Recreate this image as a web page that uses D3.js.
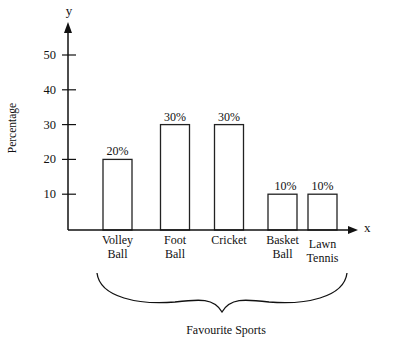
<!DOCTYPE html>
<html>
<head>
<meta charset="utf-8">
<script src="https://cdn.jsdelivr.net/npm/d3@7"></script>
<style>
  html, body { margin: 0; padding: 0; background: #fff; }
  svg { display: block; }
  text { font-family: "Liberation Serif", "Times New Roman", serif; fill: #111; }
</style>
</head>
<body>
<svg id="chart" width="400" height="339"></svg>
<script>
// Favourite sports survey
const categories = ["Volley Ball", "Foot Ball", "Cricket", "Basket Ball", "Lawn Tennis"];
const labelLines = [["Volley", "Ball"], ["Foot", "Ball"], ["Cricket"], ["Basket", "Ball"], ["Lawn", "Tennis"]];
const percentages = [20, 30, 30, 10, 10];
const valueLabels = ["20%", "30%", "30%", "10%", "10%"];
const yTicks = [10, 20, 30, 40, 50];

const svg = d3.select("#chart");
const originX = 68, originY = 230;

const y = d3.scaleLinear().domain([0, 50]).range([229, 55]);
// category centres along the x axis
const x = d3.scaleOrdinal().domain(categories).range([117.5, 175, 229, 282.5, 322.5]);
const barW = 29;

// bars
svg.selectAll("rect.bar").data(categories).enter().append("rect")
  .attr("class", "bar")
  .attr("x", d => x(d) - barW / 2)
  .attr("y", (d, i) => y(percentages[i]))
  .attr("width", barW)
  .attr("height", (d, i) => originY - y(percentages[i]))
  .attr("fill", "#fff")
  .attr("stroke", "#222")
  .attr("stroke-width", 1.3);

// value labels
svg.selectAll("text.val").data(categories).enter().append("text")
  .attr("class", "val")
  .attr("x", (d, i) => x(d) + (i === 3 ? 3 : 0))
  .attr("y", (d, i) => y(percentages[i]) - 4)
  .attr("text-anchor", "middle")
  .attr("font-size", 12)
  .text((d, i) => valueLabels[i]);

// axes
svg.append("line").attr("x1", originX).attr("y1", originY).attr("x2", originX).attr("y2", 30)
  .attr("stroke", "#111").attr("stroke-width", 1.5);
svg.append("path").attr("d", `M${originX},22 L${originX - 4},33 L${originX + 4},33 Z`).attr("fill", "#111");
svg.append("line").attr("x1", originX).attr("y1", originY).attr("x2", 352).attr("y2", originY)
  .attr("stroke", "#111").attr("stroke-width", 1.5);
svg.append("path").attr("d", `M358,${originY} L348,${originY - 4} L348,${originY + 4} Z`).attr("fill", "#111");
svg.append("text").attr("x", 69).attr("y", 15).attr("text-anchor", "middle").attr("font-size", 13).text("y");
svg.append("text").attr("x", 364).attr("y", 232).attr("font-size", 13).text("x");

// y ticks
const tg = svg.selectAll("g.tick").data(yTicks).enter().append("g").attr("class", "tick");
tg.append("line").attr("x1", originX - 6).attr("x2", originX + 8)
  .attr("y1", d => y(d)).attr("y2", d => y(d))
  .attr("stroke", "#111").attr("stroke-width", 1.2);
tg.append("text").attr("x", 56).attr("y", d => y(d) + 4).attr("text-anchor", "end")
  .attr("font-size", 12.5).text(d => d);

// category labels
svg.selectAll("text.cat").data(categories).enter().append("text")
  .attr("class", "cat")
  .attr("text-anchor", "middle")
  .attr("font-size", 12)
  .each(function (d, i) {
    const t = d3.select(this);
    const top = i === 4 ? 248 : 244;
    labelLines[i].forEach((line, k) => {
      t.append("tspan").attr("x", x(d)).attr("y", top + k * 14).text(line);
    });
  });

// axis titles
svg.append("text")
  .attr("transform", "translate(16,128) rotate(-90)")
  .attr("text-anchor", "middle").attr("font-size", 11.5).text("Percentage");

// brace under categories
svg.append("path")
  .attr("d", "M97,273 C100,298 140,305 175,302 C200,299 214,298 222,312 C230,298 244,299 269,302 C304,305 344,298 347,273")
  .attr("fill", "none").attr("stroke", "#111").attr("stroke-width", 1.3);
svg.append("text").attr("x", 226).attr("y", 334).attr("text-anchor", "middle")
  .attr("font-size", 12).text("Favourite Sports");
</script>
</body>
</html>
